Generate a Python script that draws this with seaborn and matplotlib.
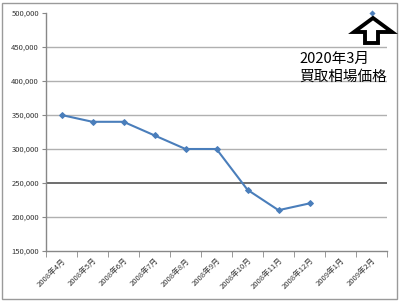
import matplotlib
matplotlib.use("Agg")
import matplotlib.pyplot as plt
import seaborn as sns
import numpy as np
import pandas as pd
from matplotlib.patches import Polygon, Rectangle

months = ["2008年4月", "2008年5月", "2008年6月", "2008年7月", "2008年8月", "2008年9月",
          "2008年10月", "2008年11月", "2008年12月", "2009年1月", "2009年2月"]
prices = [350000, 340000, 340000, 320000, 300000, 300000, 240000, 210000, 220000, np.nan, 500000]
yticks = [150000, 200000, 250000, 300000, 350000, 400000, 450000, 500000]
note_lines = ["2020年3月", "買取相場価格"]

sns.set_style("white")
plt.rcParams['font.family'] = ['Noto Sans CJK JP', 'DejaVu Sans']

df = pd.DataFrame({"pos": np.arange(len(months)), "month": months, "price": prices})
hist = df.iloc[:9]
last = df.iloc[[10]]

fig = plt.figure(figsize=(4.0, 3.01), dpi=100)
W, H = 400, 301
ax = fig.add_axes([46 / W, 1 - 251 / H, (387 - 46) / W, (251 - 13) / H])

color = "#4a7ebb"
sns.lineplot(data=hist, x="pos", y="price", ax=ax, color=color, linewidth=1.5,
             marker="D", markersize=3, markeredgecolor=color)
sns.scatterplot(data=last, x="pos", y="price", ax=ax, color=color, marker="D", s=8,
                edgecolor=color, zorder=5, clip_on=False)

ax.set_xlim(-0.5, len(months) - 0.5)
ax.set_ylim(150000, 500000)
ax.set_yticks(yticks)
ax.set_yticklabels([f"{v:,}" for v in yticks], fontsize=5.5, color="#333333")
ax.set_xticks(np.arange(len(months)))
ax.set_xticklabels(months, rotation=45, ha="right", rotation_mode="anchor", fontsize=5.5,
                   color="#333333")
ax.tick_params(axis="x", length=0, pad=4)
ax.tick_params(axis="y", length=3, color="#888888", pad=2, direction="out", left=True)
# category boundary tick marks
ax.set_xticks(np.arange(-0.5, len(months), 1.0), minor=True)
ax.tick_params(axis="x", which="minor", length=4, color="#888888", bottom=True)

for v in yticks[1:-1]:
    if v == 250000:
        ax.axhline(v, color="#6e6e6e", linewidth=1.4, zorder=0)
    else:
        ax.axhline(v, color="#b0b0b0", linewidth=1.0, zorder=0)

for s in ["top", "right"]:
    ax.spines[s].set_visible(False)
for s in ["left", "bottom"]:
    ax.spines[s].set_color("#888888")
    ax.spines[s].set_linewidth(1.0)
ax.set_xlabel("")
ax.set_ylabel("")

# annotation text
fig.text(299 / W, 1 - 59 / H, note_lines[0], fontsize=10.5, ha="left", va="center", color="black")
fig.text(299 / W, 1 - 77 / H, note_lines[1], fontsize=10.5, ha="left", va="center", color="black")

# hollow up arrow
pts = [(373, 18), (392, 32), (378, 32), (378, 43), (365, 43), (365, 32), (354, 32)]
arrow = Polygon([(x / W, 1 - y / H) for x, y in pts], closed=True, transform=fig.transFigure,
                facecolor="white", edgecolor="black", linewidth=2.8, zorder=10)
fig.add_artist(arrow)

# outer border
fig.add_artist(Rectangle((2 / W, 2 / H), 395 / W, 296 / H, transform=fig.transFigure,
                         fill=False, edgecolor="#9a9a9a", linewidth=1.0))

fig.savefig("out.png", dpi=100)
